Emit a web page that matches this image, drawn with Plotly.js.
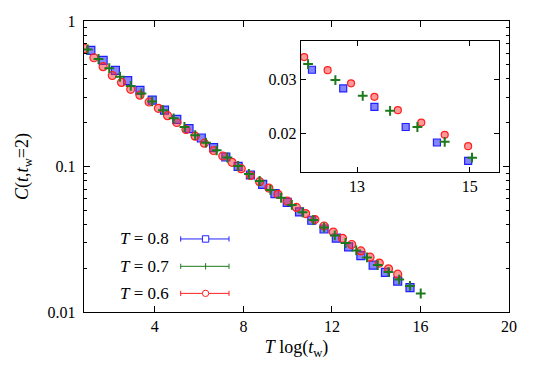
<!DOCTYPE html>
<html>
<head>
    <title>C(t, tw=2)</title>
    <script src="https://cdn.plot.ly/plotly-3.0.1.min.js"></script>
    <style>
        body { margin: 0; }
        #chart { width: 540px; height: 378px; }
    </style>
</head>
<body>
    <div id="chart"></div>
    <script>
        // T = 0.8 (blue squares)
        const xBlue = [1.109, 1.664, 2.218, 2.773, 3.327, 3.882, 4.436, 4.991, 5.545, 6.100,
            6.654, 7.208, 7.763, 8.318, 8.872, 9.427, 9.981, 10.536, 11.090, 11.645,
            12.199, 12.754, 13.308, 13.863, 14.418, 14.972, 15.527];
        const yBlue = [0.629, 0.537, 0.458, 0.389, 0.334, 0.286, 0.244, 0.211, 0.182, 0.157,
            0.1346, 0.1162, 0.1003, 0.0874, 0.0754, 0.0650, 0.0566, 0.0487, 0.0427, 0.0372,
            0.0322, 0.0280, 0.0244, 0.0210, 0.0187, 0.0163, 0.0147];

        // T = 0.7 (green crosses)
        const xGreen = [0.970, 1.456, 1.941, 2.426, 2.911, 3.396, 3.882, 4.367, 4.852, 5.337,
            5.822, 6.308, 6.793, 7.278, 7.763, 8.248, 8.734, 9.219, 9.704, 10.189,
            10.674, 11.160, 11.645, 12.130, 12.615, 13.100, 13.586, 14.071, 14.556, 15.041,
            15.526, 16.012];
        const yGreen = [0.637, 0.548, 0.474, 0.414, 0.358, 0.318, 0.280, 0.244, 0.2145, 0.1868,
            0.1641, 0.1457, 0.1292, 0.1153, 0.1008, 0.0888, 0.0795, 0.0690, 0.0610, 0.0544,
            0.0484, 0.0429, 0.0381, 0.0336, 0.0298, 0.0265, 0.0237, 0.0210, 0.0188, 0.0167,
            0.0151, 0.0134];

        // T = 0.6 (red circles)
        const xRed = [0.832, 1.248, 1.664, 2.079, 2.495, 2.911, 3.327, 3.743, 4.159, 4.575,
            4.991, 5.407, 5.822, 6.238, 6.654, 7.070, 7.486, 7.902, 8.318, 8.734,
            9.150, 9.565, 9.981, 10.397, 10.813, 11.229, 11.645, 12.061, 12.477, 12.893,
            13.308, 13.724, 14.140, 14.556, 14.972];
        const yRed = [0.647, 0.559, 0.485, 0.422, 0.378, 0.339, 0.309, 0.2775, 0.2512, 0.2234,
            0.2006, 0.1796, 0.1615, 0.1446, 0.1288, 0.1181, 0.1069, 0.0966, 0.0867, 0.0786,
            0.0711, 0.0644, 0.0579, 0.0523, 0.0475, 0.0432, 0.0390, 0.0354, 0.0321, 0.0291,
            0.0263, 0.0238, 0.0217, 0.0198, 0.0182];

        const legendLabels = ["<i>T</i> = 0.8", "<i>T</i> = 0.7", "<i>T</i> = 0.6"];

        const BLUE = "#2020ff";
        const GREEN = "#1c7a1c";
        const RED = "#ff2020";
        const FONT = "Liberation Serif, Times New Roman, serif";
        const INSET_XMAX = 15.5;

        function series(x, y, color, fill, symbol, size, xa, ya) {
            // inset only shows the points that fall inside its x window
            if (xa === "x2") {
                const keep = x.map(v => v <= INSET_XMAX);
                x = x.filter((v, i) => keep[i]);
                y = y.filter((v, i) => keep[i]);
            }
            return {
                x: x, y: y, type: "scatter", mode: "markers",
                xaxis: xa, yaxis: ya, showlegend: false, hoverinfo: "skip",
                marker: { symbol: symbol, size: size, color: fill, line: { color: color, width: 1.2 } }
            };
        }

        const blueFill = "rgba(50,50,255,0.6)";
        const redFill = "rgba(255,50,50,0.5)";
        const traces = [
            series(xBlue, yBlue, BLUE, blueFill, "square", 8, "x", "y"),
            series(xRed, yRed, RED, redFill, "circle", 8, "x", "y"),
            series(xGreen, yGreen, GREEN, GREEN, "cross-thin", 7, "x", "y"),
            series(xBlue, yBlue, BLUE, blueFill, "square", 7, "x2", "y2"),
            series(xRed, yRed, RED, redFill, "circle", 7, "x2", "y2"),
            series(xGreen, yGreen, GREEN, GREEN, "cross-thin", 7, "x2", "y2")
        ];
        traces[2].marker.line.width = 2;
        traces[5].marker.line.width = 2;

        // gnuplot-style key drawn by hand (text + errorbar sample)
        const keyColors = [BLUE, GREEN, RED];
        const keyY = [0.251, 0.157, 0.064];
        const annotations = [];
        const shapes = [];
        const x0 = 0.2275, x1 = 0.3412, xm = 0.2861, cap = 0.009;
        const dx = 0.0075, dy = 0.011;
        legendLabels.forEach((lab, i) => {
            const c = keyColors[i], yy = keyY[i];
            annotations.push({
                xref: "paper", yref: "paper", x: 0.205, y: yy, xanchor: "right", yanchor: "middle",
                text: lab, showarrow: false, font: { family: FONT, size: 17, color: "black" }
            });
            shapes.push({ type: "line", xref: "paper", yref: "paper", x0: x0, x1: x1, y0: yy, y1: yy, line: { color: c, width: 1 } });
            shapes.push({ type: "line", xref: "paper", yref: "paper", x0: x0, x1: x0, y0: yy - cap, y1: yy + cap, line: { color: c, width: 1 } });
            shapes.push({ type: "line", xref: "paper", yref: "paper", x0: x1, x1: x1, y0: yy - cap, y1: yy + cap, line: { color: c, width: 1 } });
            if (i === 0) {
                shapes.push({ type: "rect", xref: "paper", yref: "paper", x0: xm - dx, x1: xm + dx, y0: yy - dy, y1: yy + dy, line: { color: c, width: 1 }, fillcolor: "white" });
            } else if (i === 1) {
                shapes.push({ type: "line", xref: "paper", yref: "paper", x0: xm, x1: xm, y0: yy - dy, y1: yy + dy, line: { color: c, width: 1 } });
            } else {
                shapes.push({ type: "circle", xref: "paper", yref: "paper", x0: xm - dx, x1: xm + dx, y0: yy - dy, y1: yy + dy, line: { color: c, width: 1 }, fillcolor: "white" });
            }
        });

        const axisCommon = {
            showgrid: false, zeroline: false, showline: true, linecolor: "black", linewidth: 1.2,
            mirror: "ticks", ticks: "inside", ticklen: 6, tickcolor: "black",
            tickfont: { family: FONT, size: 16, color: "black" }
        };

        const layout = {
            width: 540, height: 378,
            margin: { l: 84, r: 31, t: 21, b: 66 },
            paper_bgcolor: "white", plot_bgcolor: "white",
            font: { family: FONT, color: "black" },
            xaxis: Object.assign({}, axisCommon, {
                range: [0.8, 20], tickvals: [4, 8, 12, 16, 20],
                title: { text: "<i>T</i> log(<i>t</i><sub>w</sub>)", font: { family: FONT, size: 18 }, standoff: 6 }
            }),
            yaxis: Object.assign({}, axisCommon, {
                type: "log", range: [-2, 0], tickvals: [0.01, 0.1, 1], ticktext: ["0.01", "0.1", "1"],
                ticklabelstandoff: 4,
                minor: { ticks: "inside", ticklen: 3, tickcolor: "black", tickvals: [0.02, 0.03, 0.04, 0.05, 0.06, 0.07, 0.08, 0.09, 0.2, 0.3, 0.4, 0.5, 0.6, 0.7, 0.8, 0.9] },
                title: { text: "<i>C</i>(<i>t</i>,<i>t</i><sub>w</sub>=2)", font: { family: FONT, size: 18 }, standoff: 14 }
            }),
            xaxis2: Object.assign({}, axisCommon, {
                domain: [0.51, 0.9765], anchor: "y2", range: [12.0, 15.52], tickvals: [13, 15], ticklen: 5, linewidth: 1
            }),
            yaxis2: Object.assign({}, axisCommon, {
                domain: [0.481, 0.9323], anchor: "x2", type: "log",
                range: [Math.log10(0.015), Math.log10(0.04)], tickvals: [0.02, 0.03], ticktext: ["0.02", "0.03"], ticklen: 5, linewidth: 1
            }),
            annotations: annotations,
            shapes: shapes
        };

        Plotly.newPlot("chart", traces, layout, { staticPlot: true });
    </script>
</body>
</html>
